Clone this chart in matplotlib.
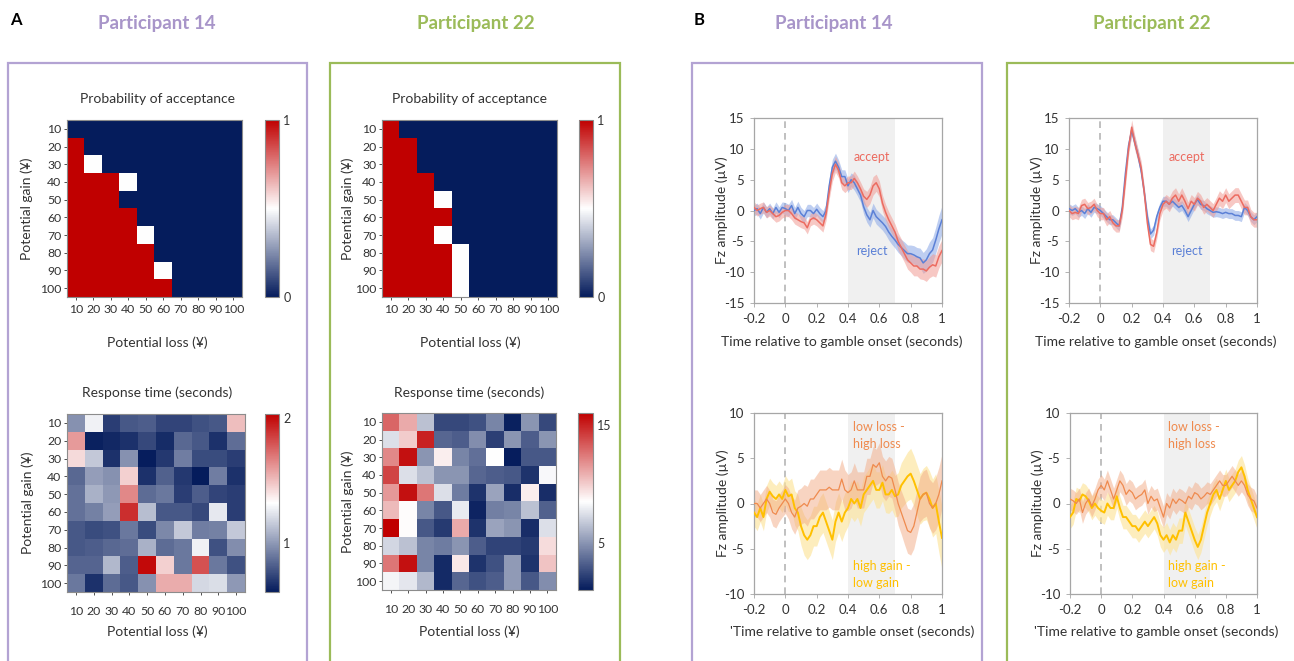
import numpy as np
import matplotlib
matplotlib.use("Agg")
import matplotlib.pyplot as plt
from matplotlib.colors import LinearSegmentedColormap
from matplotlib.patches import Rectangle

plt.rcParams['font.family'] = ['Lato', 'DejaVu Sans']

# ---- dados: heatmaps ----
ganhos = [10, 20, 30, 40, 50, 60, 70, 80, 90, 100]
perdas = [10, 20, 30, 40, 50, 60, 70, 80, 90, 100]

prob_p14 = [
    [0, 0, 0, 0, 0, 0, 0, 0, 0, 0],
    [1, 0, 0, 0, 0, 0, 0, 0, 0, 0],
    [1, 0.5, 0, 0, 0, 0, 0, 0, 0, 0],
    [1, 1, 1, 0.5, 0, 0, 0, 0, 0, 0],
    [1, 1, 1, 0, 0, 0, 0, 0, 0, 0],
    [1, 1, 1, 1, 0, 0, 0, 0, 0, 0],
    [1, 1, 1, 1, 0.5, 0, 0, 0, 0, 0],
    [1, 1, 1, 1, 1, 0, 0, 0, 0, 0],
    [1, 1, 1, 1, 1, 0.5, 0, 0, 0, 0],
    [1, 1, 1, 1, 1, 1, 0, 0, 0, 0],
]
prob_p22 = [
    [1, 0, 0, 0, 0, 0, 0, 0, 0, 0],
    [1, 1, 0, 0, 0, 0, 0, 0, 0, 0],
    [1, 1, 0, 0, 0, 0, 0, 0, 0, 0],
    [1, 1, 1, 0, 0, 0, 0, 0, 0, 0],
    [1, 1, 1, 0.5, 0, 0, 0, 0, 0, 0],
    [1, 1, 1, 1, 0, 0, 0, 0, 0, 0],
    [1, 1, 1, 0.5, 0, 0, 0, 0, 0, 0],
    [1, 1, 1, 1, 0.5, 0, 0, 0, 0, 0],
    [1, 1, 1, 1, 0.5, 0, 0, 0, 0, 0],
    [1, 1, 1, 1, 0.5, 0, 0, 0, 0, 0],
]
rt_p14 = [
    [0.98, 1.28, 0.72, 0.80, 0.82, 0.74, 0.74, 0.78, 0.80, 1.50],
    [1.60, 0.63, 0.65, 0.68, 0.75, 0.66, 0.85, 0.80, 0.68, 0.87],
    [1.42, 1.15, 0.68, 0.98, 0.62, 0.70, 0.92, 0.76, 0.76, 0.72],
    [0.85, 1.02, 0.98, 1.45, 0.68, 0.83, 0.70, 0.60, 0.92, 0.68],
    [0.88, 1.08, 1.00, 1.65, 0.86, 0.90, 0.72, 0.82, 0.74, 0.72],
    [0.88, 0.93, 1.02, 1.90, 1.12, 0.80, 0.80, 0.75, 1.25, 0.72],
    [0.80, 0.76, 0.78, 0.90, 0.76, 0.95, 1.15, 0.92, 0.93, 1.15],
    [0.80, 0.82, 0.85, 0.87, 1.08, 0.86, 0.90, 1.28, 0.78, 0.97],
    [0.84, 0.84, 1.10, 0.82, 2.00, 1.45, 0.90, 1.80, 0.90, 0.78],
    [0.90, 0.68, 0.86, 0.80, 0.98, 1.55, 1.55, 1.20, 1.22, 1.00],
]
rt_p22 = [
    [13.0, 11.0, 6.5, 2.5, 2.5, 2.8, 4.5, 1.2, 5.0, 2.5],
    [7.5, 10.0, 15.0, 3.5, 3.2, 4.8, 2.2, 5.0, 3.2, 5.0],
    [12.0, 15.5, 5.0, 9.0, 4.5, 3.8, 8.5, 1.1, 3.0, 3.0],
    [14.0, 7.5, 6.5, 5.0, 5.0, 3.5, 3.2, 3.0, 1.8, 8.3],
    [11.5, 15.5, 12.5, 7.5, 4.2, 1.8, 5.5, 1.6, 9.0, 1.6],
    [10.5, 8.6, 4.5, 3.0, 7.8, 1.3, 4.3, 4.5, 6.5, 3.3],
    [16.0, 8.6, 3.0, 2.0, 11.0, 1.8, 5.5, 5.0, 1.6, 7.5],
    [7.2, 6.5, 4.5, 4.2, 5.0, 3.2, 2.3, 2.3, 2.0, 9.5],
    [12.5, 15.5, 4.5, 1.5, 9.2, 1.8, 2.8, 5.2, 1.8, 10.2],
    [8.2, 7.7, 6.2, 1.5, 3.5, 2.8, 3.2, 5.2, 3.0, 4.8],
]

# ---- dados: ERPs (amostras a cada 20 ms, -0.2 a 1.0 s) ----
tempo = np.linspace(-0.2, 1.0, 61)

aceita_p14 = [0.5, 0, 0.3, 0.5, -0.3, 0, -0.5, -1, -0.8, -0.3,
              0, 0, -0.5, -1.2, -1.5, -1.8, -2, -2.8, -1.5, -1.2,
              -1.5, -2, -2.5, -0.5, 3, 6, 7.5, 6.5, 4.5, 4,
              4.5, 4.5, 5.2, 4.5, 3.5, 2.3, 1.8, 2.5, 4, 4.5,
              3.5, 1.2, -0.3, -1.5, -2.5, -3.5, -5, -6, -7, -8,
              -8.5, -9, -9, -9.5, -9.5, -9.8, -9.2, -8.8, -9, -7.5,
              -6.5]
rejeita_p14 = [0, 0.3, -0.5, 0.5, -0.3, 0.3, -0.5, 0.5, -0.3, 0.5,
               0.3, 0, 0.8, -0.5, 0.5, -0.5, -1, 0, 0, -0.5,
               0.2, -0.5, -1, 0, 4, 7, 8, 7, 5.5, 5.5,
               4, 5, 4.5, 3.5, 2.5, 0.6, -0.7, -1.5, 0, -1,
               -1.5, -2, -2.6, -3.5, -4.2, -4.8, -5.5, -6, -6.5, -7,
               -7, -7.2, -7.5, -7.7, -8.5, -8, -7, -6.4, -4.8, -3,
               -1.5]
aceita_p14_sem = [0.9, 0.9, 0.9, 0.9, 0.9, 0.9, 0.9, 0.9, 0.9, 0.9,
                  1.0, 1.0, 1.0, 1.0, 1.0, 1.0, 1.0, 1.0, 1.0, 1.0,
                  1.0, 1.0, 1.0, 1.1, 1.2, 1.3, 1.3, 1.2, 1.1, 1.1,
                  1.1, 1.1, 1.2, 1.1, 1.1, 1.2, 1.3, 1.4, 1.5, 1.4,
                  1.3, 1.3, 1.3, 1.3, 1.3, 1.3, 1.4, 1.4, 1.4, 1.5,
                  1.5, 1.6, 1.6, 1.6, 1.7, 1.7, 1.7, 1.8, 1.8, 1.8,
                  1.8]
rejeita_p14_sem = [0.9, 0.9, 0.9, 0.9, 0.9, 0.9, 0.9, 0.9, 0.9, 0.9,
                   1.0, 1.0, 1.0, 1.0, 1.0, 1.0, 1.0, 1.0, 1.0, 1.0,
                   1.0, 1.0, 1.0, 1.1, 1.2, 1.3, 1.3, 1.2, 1.1, 1.1,
                   1.1, 1.1, 1.2, 1.1, 1.1, 1.2, 1.2, 1.2, 1.2, 1.2,
                   1.2, 1.2, 1.3, 1.3, 1.3, 1.3, 1.3, 1.3, 1.4, 1.4,
                   1.4, 1.5, 1.5, 1.6, 1.7, 1.8, 1.9, 2.0, 2.1, 2.2,
                   2.3]

aceita_p22 = [0, -0.5, -0.3, -0.5, 0.8, 1, 0.3, 0.5, 1, 0,
              -0.5, -0.5, -1.5, -1, -2, -2.5, -2.5, 0, 5, 10,
              13.5, 11, 9, 7, 3, -2, -5.5, -5.8, -3.6, -0.5,
              1, 1.5, 1, 2, 2.5, 1.5, 2.5, 1.5, 0.3, 1.5,
              1, 2, 1.5, 0.5, 1, 0.5, 0, 1, 2, 1.5,
              2.5, 1.5, 2, 2.5, 2.5, 1.5, 0.5, 0.5, -1, -1.5,
              -1.5]
rejeita_p22 = [0.3, 0, 0.3, -0.3, 0, -0.5, 0.3, -0.3, 0.5, 0.3,
               0, -0.5, -1, -1.5, -1.5, -2, -2.5, 0.5, 6, 10.5,
               13, 11, 9, 6.5, 3, -1, -3.8, -3.2, -1, 0.5,
               1.5, 1.5, 1, 1.5, 1, 0.5, 0.8, 0, -1, 0,
               1, 1.8, 1, 0.8, 0.3, 0, -0.3, -0.2, -0.3, -0.5,
               -0.3, -0.5, -0.5, -0.8, -0.8, -1, 0.5, 0, -1, -1.5,
               -1]
aceita_p22_sem = [1.0, 1.0, 1.0, 1.0, 1.0, 1.0, 1.0, 1.0, 1.0, 1.0,
                  1.0, 1.0, 1.0, 1.0, 1.0, 1.0, 1.0, 1.1, 1.2, 1.2,
                  1.2, 1.2, 1.1, 1.1, 1.0, 1.0, 1.0, 1.0, 1.0, 1.0,
                  1.0, 1.1, 1.2, 1.2, 1.2, 1.2, 1.2, 1.1, 1.1, 1.1,
                  1.1, 1.1, 1.1, 1.1, 1.1, 1.1, 1.1, 1.1, 1.2, 1.2,
                  1.2, 1.2, 1.2, 1.2, 1.2, 1.2, 1.2, 1.2, 1.2, 1.2,
                  1.2]
rejeita_p22_sem = [0.8, 0.8, 0.8, 0.8, 0.8, 0.8, 0.8, 0.8, 0.8, 0.8,
                   0.8, 0.8, 0.8, 0.8, 0.8, 0.8, 0.8, 0.9, 0.9, 0.9,
                   0.9, 0.9, 0.9, 0.9, 0.8, 0.8, 0.8, 0.8, 0.8, 0.8,
                   0.8, 0.8, 0.8, 0.8, 0.8, 0.8, 0.8, 0.8, 0.8, 0.8,
                   0.8, 0.8, 0.8, 0.8, 0.8, 0.8, 0.8, 0.8, 0.8, 0.8,
                   0.8, 0.8, 0.8, 0.8, 0.8, 0.8, 0.8, 0.8, 0.8, 0.8,
                   0.8]

perda_p14 = [0, 0, -0.5, 0, 0.5, 0, -1, -1.2, -0.5, 0,
             0.5, 0, -1, -1.5, -0.5, -0.3, 0, -0.3, 0.5, 0.5,
             1, 1.5, 1.5, 1.5, 1.8, 1.5, 1.5, 1.5, 2.7, 1.5,
             1.2, 1.5, 2.5, 1.5, 1.5, 1.5, 3, 3, 4.3, 4,
             4.5, 3, 2.5, 3, 2.8, 1.5, 0, -1, -2, -3,
             -3.2, -2.5, -1, 0.5, 1, 1.2, 0, -0.5, 0, 1,
             2.5]
ganho_p14 = [-1, -1.5, -0.5, -1.5, 0.5, 1.3, 0.8, 0.5, 1, 0.5,
             1.5, 0.8, 1, -0.5, -1, -2.5, -3.5, -4, -3.5, -2.5,
             -2.5, -1.5, -1, -2, -3, -4, -2, -1, -2, -1,
             -0.5, 0.5, 0, 0.5, -0.5, 1, 1.5, 2, 2.5, 1.5,
             1.5, 2.3, 1, 1, 1.5, 0.8, 1, 2, 2.5, 3,
             3.3, 2.5, 1.5, 0.5, 1, 1.2, 0.5, -0.5, 0, -2,
             -3.8]
perda_p14_sem = [1.5, 1.5, 1.5, 1.5, 1.5, 1.5, 1.5, 1.5, 1.5, 1.5,
                 1.6, 1.7, 1.8, 1.9, 2.0, 2.0, 2.1, 2.2, 2.2, 2.2,
                 2.2, 2.2, 2.2, 2.2, 2.2, 2.2, 2.2, 2.2, 2.2, 2.2,
                 2.0, 2.0, 2.0, 2.0, 2.0, 2.0, 2.0, 2.0, 2.0, 2.0,
                 2.2, 2.2, 2.2, 2.2, 2.2, 2.3, 2.4, 2.4, 2.5, 2.5,
                 2.5, 2.5, 2.5, 2.5, 2.6, 2.6, 2.7, 2.8, 2.9, 3.0,
                 3.0]
ganho_p14_sem = [1.5, 1.5, 1.5, 1.5, 1.5, 1.5, 1.5, 1.5, 1.5, 1.5,
                 1.6, 1.7, 1.8, 1.9, 2.0, 2.1, 2.2, 2.2, 2.2, 2.2,
                 2.2, 2.2, 2.2, 2.2, 2.2, 2.2, 2.2, 2.2, 2.2, 2.2,
                 2.0, 2.0, 2.0, 2.0, 2.0, 2.0, 2.0, 2.0, 2.0, 2.0,
                 2.0, 2.0, 2.0, 2.1, 2.2, 2.3, 2.4, 2.5, 2.6, 2.7,
                 2.8, 2.8, 2.8, 2.8, 2.9, 3.0, 3.1, 3.2, 3.3, 3.4,
                 3.5]

perda_p22 = [0.5, 0.3, 0, 0.5, -1, 0, 0.5, -0.3, 0.5, 1.5,
             2, 1.5, 2.5, 1.5, 0.5, 1.5, 2.5, 2, 1, 1.5,
             1.2, 0.5, 0.8, 1, 1.5, 0, 0.8, 0.3, 0.5, -0.5,
             -1.5, 0, -0.5, 0.5, 0, 0.5, 0.3, 0, 0.8, 0.5,
             1.2, 1, 0.5, 0.8, 1.2, 1, 1.5, 2, 2.5, 2,
             2, 2.5, 3, 2.5, 2, 2.5, 2, 1, 0.5, 0.3,
             -0.5]
ganho_p22 = [-1.5, -1, 0.5, 0.3, 1, 0.8, 0.3, -0.5, 0, -0.5,
             -0.8, -1, 0, -0.5, -0.5, 0.8, -0.5, -1.5, -1.5, -2,
             -2.5, -2.5, -3, -2.5, -2, -2.5, -2, -1.5, -2.2, -3.5,
             -4, -3.5, -4.3, -3.5, -4, -3, -3, -1, -2, -3,
             -4, -4.8, -4, -2.5, -1, 0, 1, 1.5, 0.5, 1.5,
             2.5, 1.5, 2, 2.5, 3.5, 4, 3, 1.5, 0.5, -0.5,
             -1.5]
perda_p22_sem = [1.2, 1.2, 1.2, 1.2, 1.2, 1.2, 1.2, 1.2, 1.2, 1.2,
                 1.2, 1.2, 1.2, 1.2, 1.2, 1.2, 1.2, 1.2, 1.2, 1.2,
                 1.2, 1.2, 1.2, 1.2, 1.2, 1.2, 1.2, 1.2, 1.2, 1.2,
                 1.2, 1.2, 1.2, 1.2, 1.2, 1.2, 1.2, 1.2, 1.2, 1.2,
                 1.2, 1.2, 1.2, 1.2, 1.2, 1.2, 1.2, 1.2, 1.2, 1.2,
                 1.2, 1.2, 1.2, 1.2, 1.2, 1.2, 1.2, 1.2, 1.3, 1.3,
                 1.3]
ganho_p22_sem = [1.3, 1.3, 1.3, 1.3, 1.3, 1.3, 1.3, 1.3, 1.3, 1.3,
                 1.3, 1.3, 1.3, 1.3, 1.3, 1.3, 1.3, 1.3, 1.3, 1.3,
                 1.3, 1.3, 1.3, 1.3, 1.3, 1.3, 1.3, 1.3, 1.3, 1.3,
                 1.4, 1.4, 1.4, 1.4, 1.4, 1.4, 1.4, 1.4, 1.4, 1.4,
                 1.4, 1.4, 1.4, 1.4, 1.4, 1.3, 1.3, 1.3, 1.3, 1.3,
                 1.3, 1.3, 1.3, 1.3, 1.3, 1.3, 1.3, 1.3, 1.3, 1.3,
                 1.3]

# ---- estilo ----
W, H = 1294, 661
ROXO = '#b3a3d3'
ROXO_TXT = '#a895c9'
VERDE = '#9bbb59'
CINZA = '#a6a6a6'
TXT = '#333333'
cmap = LinearSegmentedColormap.from_list('azul_branco_vermelho', ['#051c5c', '#ffffff', '#c00000'])

fig = plt.figure(figsize=(W / 100, H / 100), dpi=100)


def eixo_px(x0, y0, x1, y1):
    return fig.add_axes([x0 / W, 1 - y1 / H, (x1 - x0) / W, (y1 - y0) / H])


def texto_px(x, y, s, **kw):
    kw.setdefault('ha', 'center')
    kw.setdefault('va', 'center')
    kw.setdefault('color', TXT)
    fig.text(x / W, 1 - y / H, s, **kw)


def caixa_px(x0, y0, x1, y1, cor):
    fig.add_artist(Rectangle((x0 / W, 1 - y1 / H), (x1 - x0) / W, (y1 - y0) / H,
                             transform=fig.transFigure, fill=False, edgecolor=cor, linewidth=1.6))


def heatmap(box, cbox, dados, vmin, vmax, cticks, titulo, centro_x, y_tit, y_xl, x_yl, pad_x):
    ax = eixo_px(*box)
    im = ax.imshow(np.array(dados), cmap=cmap, vmin=vmin, vmax=vmax, aspect='auto', interpolation='nearest')
    ax.set_xticks(range(len(perdas)))
    ax.set_xticklabels([str(v) for v in perdas])
    ax.set_yticks(range(len(ganhos)))
    ax.set_yticklabels([str(v) for v in ganhos])
    ax.tick_params(labelsize=8.8, colors=TXT, length=2, width=0.6, pad=pad_x)
    ax.tick_params(axis='y', pad=2)
    for s in ax.spines.values():
        s.set_color('#8c8c8c')
        s.set_linewidth(0.8)
    cax = eixo_px(*cbox)
    cb = fig.colorbar(im, cax=cax, ticks=cticks)
    cb.ax.tick_params(labelsize=9, colors=TXT, length=0, pad=3)
    cb.outline.set_edgecolor('#8c8c8c')
    cb.outline.set_linewidth(0.8)
    texto_px(centro_x, y_tit, titulo, fontsize=10)
    texto_px(centro_x, y_xl, 'Potential loss (¥)', fontsize=10)
    texto_px(x_yl, (box[1] + box[3]) / 2, 'Potential gain (¥)', fontsize=10, rotation=90)


def erp(box, series, ylim, yticks, yticklabels, anotacoes, x_xl, y_xl, x_yl, rotulo_x):
    ax = eixo_px(*box)
    ax.axvspan(0.4, 0.7, color='#f0f0f0', lw=0, zorder=0)
    ax.axvline(0, color='#b5b5b5', lw=1.2, ls=(0, (4, 3)), zorder=1)
    for media, sem, cor, cor_banda, lw, alfa in series:
        m = np.array(media)
        e = np.array(sem)
        ax.fill_between(tempo, m - e, m + e, color=cor_banda, lw=0, alpha=alfa, zorder=2)
    for media, sem, cor, cor_banda, lw, alfa in series:
        ax.plot(tempo, media, color=cor, lw=lw, zorder=3)
    ax.set_xlim(-0.2, 1.0)
    ax.set_ylim(*ylim)
    ax.set_xticks([-0.2, 0, 0.2, 0.4, 0.6, 0.8, 1.0])
    ax.set_xticklabels(['-0.2', '0', '0.2', '0.4', '0.6', '0.8', '1'])
    ax.set_yticks(yticks)
    ax.set_yticklabels(yticklabels)
    ax.tick_params(labelsize=9.5, colors=TXT, length=3, width=0.6, pad=4)
    ax.tick_params(axis='both', color=CINZA)
    for s in ax.spines.values():
        s.set_color(CINZA)
        s.set_linewidth(0.9)
    for x, y, s, cor, ha in anotacoes:
        ax.text(x, y, s, color=cor, fontsize=9, ha=ha, va='center', linespacing=1.5)
    texto_px(x_xl, y_xl, rotulo_x, fontsize=10)
    texto_px(x_yl, (box[1] + box[3]) / 2, 'Fz amplitude (µV)', fontsize=10, rotation=90)


# caixas dos painéis
caixa_px(8, 63, 307, 700, ROXO)
caixa_px(330, 63, 620, 700, VERDE)
caixa_px(692, 63, 982, 700, ROXO)
caixa_px(1007, 63, 1320, 700, VERDE)

# letras e títulos
texto_px(16, 20, 'A', fontsize=12, fontweight='bold', color='black')
texto_px(699, 20, 'B', fontsize=12, fontweight='bold', color='black')
texto_px(157, 23, 'Participant 14', fontsize=13.5, fontweight='bold', color=ROXO_TXT)
texto_px(476, 23, 'Participant 22', fontsize=13.5, fontweight='bold', color=VERDE)
texto_px(834, 23, 'Participant 14', fontsize=13.5, fontweight='bold', color=ROXO_TXT)
texto_px(1152, 23, 'Participant 22', fontsize=13.5, fontweight='bold', color=VERDE)

# painel A
heatmap((67, 120, 242, 297), (265, 120, 279, 297), prob_p14, 0, 1, [0, 1],
        'Probability of acceptance', 157, 99, 343, 27, 3)
heatmap((382, 120, 557, 297), (579, 120, 593, 297), prob_p22, 0, 1, [0, 1],
        'Probability of acceptance', 470, 99, 343, 348, 3)
heatmap((67, 414, 245, 592), (265, 414, 279, 592), rt_p14, 0.61, 2.03, [1, 2],
        'Response time (seconds)', 157, 393, 632, 28, 8)
heatmap((382, 413, 556, 590), (578, 413, 593, 590), rt_p22, 1.0, 16.0, [5, 15],
        'Response time (seconds)', 469, 393, 632, 348, 8)

# painel B
VERM, VERM_B = '#ec6b60', '#f19b94'
AZUL, AZUL_B = '#5b80d6', '#93aee8'
LARANJA, LARANJA_B = '#ef8a4e', '#f3ab85'
AMARELO, AMARELO_B = '#ffc000', '#fde49a'

erp((754, 118, 942, 303),
    [(rejeita_p14, rejeita_p14_sem, AZUL, AZUL_B, 1.1, 0.6),
     (aceita_p14, aceita_p14_sem, VERM, VERM_B, 1.1, 0.55)],
    (-15, 15), [-15, -10, -5, 0, 5, 10, 15], ['-15', '-10', '-5', '0', '5', '10', '15'],
    [(0.555, 8.6, 'accept', VERM, 'center'), (0.555, -6.5, 'reject', AZUL, 'center')],
    842, 342, 722, 'Time relative to gamble onset (seconds)')
erp((1069, 118, 1257, 303),
    [(rejeita_p22, rejeita_p22_sem, AZUL, AZUL_B, 1.1, 0.6),
     (aceita_p22, aceita_p22_sem, VERM, VERM_B, 1.1, 0.55)],
    (-15, 15), [-15, -10, -5, 0, 5, 10, 15], ['-15', '-10', '-5', '0', '5', '10', '15'],
    [(0.555, 8.6, 'accept', VERM, 'center'), (0.555, -6.5, 'reject', AZUL, 'center')],
    1156, 342, 1037, 'Time relative to gamble onset (seconds)')
erp((754, 413, 942, 594),
    [(ganho_p14, ganho_p14_sem, AMARELO, AMARELO_B, 1.4, 0.65),
     (perda_p14, perda_p14_sem, LARANJA, LARANJA_B, 0.9, 0.5)],
    (-10, 10), [-10, -5, 0, 5, 10], ['-10', '-5', '0', '5', '10'],
    [(0.43, 7.5, 'low loss -\nhigh loss', LARANJA, 'left'),
     (0.43, -7.9, 'high gain -\nlow gain', AMARELO, 'left')],
    852, 632, 723, "'Time relative to gamble onset (seconds)")
erp((1070, 413, 1257, 594),
    [(ganho_p22, ganho_p22_sem, AMARELO, AMARELO_B, 1.4, 0.65),
     (perda_p22, perda_p22_sem, LARANJA, LARANJA_B, 0.9, 0.5)],
    (-10, 10), [-10, -5, 0, 5, 10], ['-10', '-5', '0', '-5', '10'],
    [(0.43, 7.5, 'low loss -\nhigh loss', LARANJA, 'left'),
     (0.43, -7.9, 'high gain -\nlow gain', AMARELO, 'left')],
    1156, 632, 1038, "'Time relative to gamble onset (seconds)")

fig.savefig('out.png', dpi=100)
